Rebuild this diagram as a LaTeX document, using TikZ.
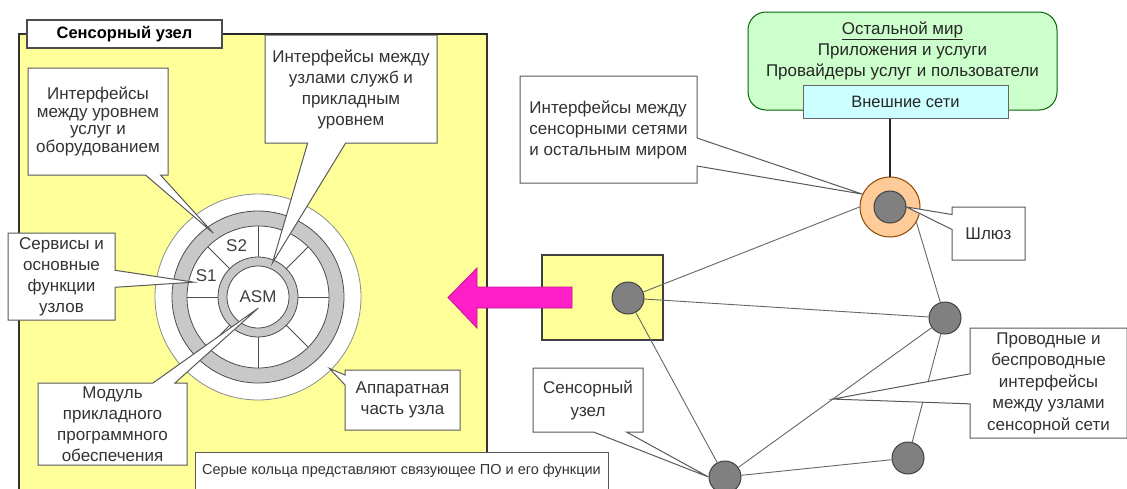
\documentclass[tikz,border=0pt]{standalone}
\usepackage{fontspec}
\setmainfont{Liberation Sans}
\usetikzlibrary{shapes.callouts,calc}

\definecolor{nodeyellow}{RGB}{255,255,153}
\definecolor{worldgreen}{RGB}{204,255,204}
\definecolor{netcyan}{RGB}{204,255,255}
\definecolor{gwsand}{RGB}{255,204,153}
\definecolor{arrowpink}{RGB}{255,30,200}
\definecolor{ringgray}{RGB}{200,200,200}

\tikzset{
  callbox/.style={rectangle callout, draw=black!65, line width=1pt, fill=white,
    align=center, text=black!80, font=\fontsize{17}{21}\selectfont, inner sep=2pt},
  sensor/.style={circle, draw=black!75, line width=1pt, fill=black!50,
    minimum size=32pt, inner sep=0pt},
  link/.style={draw=black!60, line width=0.9pt},
  ringline/.style={draw=black!70, line width=0.8pt},
}

\begin{document}
\begin{tikzpicture}[x=1pt,y=-1pt]

	\useasboundingbox (0,0) rectangle (1127,488);
	\clip (0,0) rectangle (1127,488);
	\fill[white] (0,0) rectangle (1127,488);

	% sensor node, enlarged
	\fill[nodeyellow] (19,34) rectangle (487,520);
	\draw[black!80, line width=1.6pt] (19,520) -- (19,34) -- (487,34) -- (487,520);
	\draw[black!85, line width=2.6pt] (222,34) -- (487,34);

	\coordinate (ring) at (258,297);

	\filldraw[fill=white, draw=black!45, line width=0.8pt] (ring) circle (103pt);
	\filldraw[fill=ringgray, ringline] (ring) circle (86pt);
	\filldraw[fill=white, ringline] (ring) circle (71pt);
	\foreach \a in {0,45,...,315}
		\draw[ringline] ($(ring)+(\a:40pt)$) -- ($(ring)+(\a:71pt)$);
	\filldraw[fill=ringgray, ringline] (ring) circle (40pt);
	\filldraw[fill=white, ringline] (ring) circle (31pt);

	\node (asm) [text=black!75, font=\fontsize{17}{18}\selectfont] at (ring) {ASM};
	\node (s2) [text=black!75, font=\fontsize{17}{18}\selectfont] at ($(ring)+(112.5:56pt)$) {S2};
	\node (s1) [text=black!75, font=\fontsize{17}{18}\selectfont] at ($(ring)+(157.5:56pt)$) {S1};

	\node (title) [draw=black!70, fill=white, line width=1.2pt, minimum width=195pt,
		minimum height=28pt, font=\bfseries\fontsize{16.5}{18}\selectfont] at (124.5,34) {Сенсорный узел};

	\node (uslug) [callbox, minimum width=140pt, minimum height=107pt, font=\fontsize{17}{17.5}\selectfont,
		callout pointer width=15pt, callout absolute pointer={($(ring)+(125:78pt)$)}]
		at (98,121.5) {Интерфейсы\\между уровнем\\услуг и\\оборудованием};
	\node (sluzhb) [callbox, minimum width=172pt, minimum height=108pt,
		callout pointer width=38pt, callout absolute pointer={($(ring)+(67:37pt)$)}]
		at (351,89) {Интерфейсы между\\узлами служб и\\прикладным\\уровнем};
	\node (servis) [callbox, minimum width=107pt, minimum height=87pt,
		callout pointer width=17pt, callout absolute pointer={($(ring)+(167:66pt)$)}]
		at (61.5,276.5) {Сервисы и\\основные\\функции\\узлов};
	\node (modul) [callbox, minimum width=149pt, minimum height=82pt,
		callout pointer width=22pt, callout absolute pointer={($(ring)+(-88:11pt)$)}]
		at (112.5,424) {Модуль\\прикладного\\программного\\обеспечения};
	\node (apparat) [callbox, minimum width=115pt, minimum height=60pt,
		callout pointer width=10pt, callout absolute pointer={($(ring)+(-45:101pt)$)}]
		at (402.5,400) {Аппаратная\\часть узла};

	\node (note) [draw=black!65, line width=1pt, fill=white, text=black!80, minimum width=413pt,
		minimum height=37pt, font=\fontsize{14.5}{16}\selectfont] at (401.5,471)
		{Серые кольца представляют связующее ПО и его функции};

	% network
	\node (snbox) [draw=black!75, line width=1.2pt, fill=nodeyellow, minimum width=121pt,
		minimum height=85pt] at (602.5,297.5) {};
	\node (sn) [sensor] at (628,298) {};
	\node (gw) [circle, fill=gwsand, draw=orange!55!black, line width=1pt, minimum size=60pt] at (890,207) {};
	\node (gwc) [sensor] at (gw) {};
	\node (n3) [sensor] at (945,318) {};
	\node (n4) [sensor] at (908,458) {};
	\node (n5) [sensor] at (725,477) {};

	\draw[link] (sn) -- (gw.west);
	\draw[link] (sn) -- (n3);
	\draw[link] (sn) -- (n5);
	\draw[link] (gw.-30) -- (n3);
	\draw[link] (n3) -- (n5);
	\draw[link] (n3) -- (n4);
	\draw[link] (n4) -- (n5);

	\filldraw[fill=arrowpink, draw=arrowpink!75!black, line width=0.8pt]
		(572,287) -- (477,287) -- (477,268) -- (448,297.5) -- (477,328) -- (477,308) -- (572,308) -- cycle;

	\node (seti) [callbox, align=left, minimum width=177pt, minimum height=107pt,
		callout pointer width=28pt, callout absolute pointer={(gw.155)}]
		at (608.5,129.5) {Интерфейсы между\\сенсорными сетями\\и остальным миром};
	\node (shluz) [callbox, minimum width=73pt, minimum height=53pt,
		callout pointer width=15pt, callout absolute pointer={(gwc.east)}]
		at (988.5,233.5) {Шлюз};
	\node (provod) [callbox, minimum width=157pt, minimum height=110pt, font=\fontsize{17}{21.5}\selectfont,
		callout pointer width=30pt, callout absolute pointer={($(n3)!0.51!(n5)$)}]
		at (1048.5,383) {Проводные и\\беспроводные\\интерфейсы\\между узлами\\сенсорной сети};
	\node (sensnode) [callbox, minimum width=110pt, minimum height=64pt, font=\fontsize{17}{23}\selectfont,
		callout pointer width=33pt, callout absolute pointer={(n5.west)}]
		at (588,400) {Сенсорный\\узел};

	% outside world
	\node (world) [rounded corners=18pt, draw=green!40!black, line width=1pt, fill=worldgreen,
		minimum width=309pt, minimum height=98pt] at (902.5,61) {};
	\node (worldtxt) [align=center, text=black!85, font=\fontsize{17}{21}\selectfont] at (902.5,51)
		{\underline{Остальной мир}\\Приложения и услуги\\Провайдеры услуг и пользователи};
	\node (ext) [draw=black!60, line width=1pt, fill=netcyan, minimum width=205pt, minimum height=33pt,
		text=black!85, font=\fontsize{16.5}{18}\selectfont] at (905.5,101.5) {Внешние сети};
	\draw[black!85, line width=2.4pt] (ext.south -| gw.north) -- (gw.north);

\end{tikzpicture}
\end{document}
